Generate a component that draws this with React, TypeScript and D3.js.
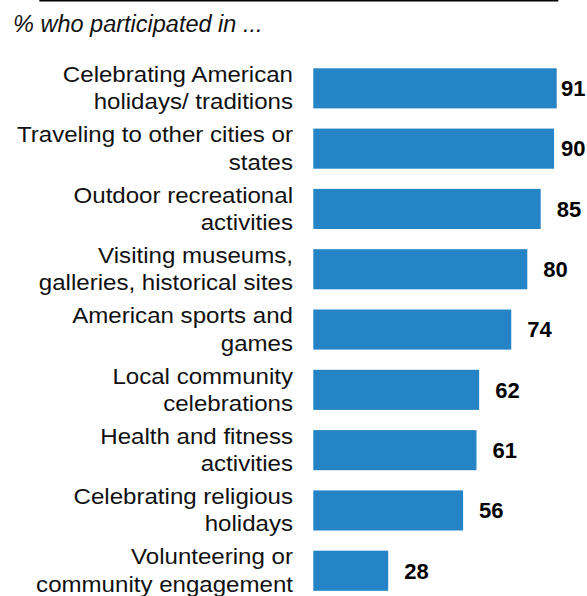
import React from "react";
import * as d3 from "d3";

const categoryLines: string[][] = [
  ["Celebrating American", "holidays/ traditions"],
  ["Traveling to other cities or", "states"],
  ["Outdoor recreational", "activities"],
  ["Visiting museums,", "galleries, historical sites"],
  ["American sports and", "games"],
  ["Local community", "celebrations"],
  ["Health and fitness", "activities"],
  ["Celebrating religious", "holidays"],
  ["Volunteering or", "community engagement"],
];
const categories = categoryLines.map((l) => l.join(" "));
const values = [91, 90, 85, 80, 74, 62, 61, 56, 28];
const subtitle = "% who participated in ...";

const W = 587;
const H = 596;
const STEP = 60.3;
const FONT = "'Liberation Sans', Arial, Helvetica, sans-serif";

export default function App() {
  const x = d3.scaleLinear().domain([0, 100]).range([313.3, 313.3 + 267.5]);
  const y = d3
    .scaleBand<string>()
    .domain(categories)
    .range([58.2, 58.2 + categories.length * STEP])
    .paddingInner(0.335)
    .paddingOuter(0.1675);

  return (
    <svg
      width={W}
      height={H}
      style={{ position: "absolute", left: 0, top: 0, background: "#fff" }}
      fontFamily={FONT}
    >
      <line x1={39.3} x2={558.3} y1={0.7} y2={0.7} stroke="#000" strokeWidth={1.5} />
      <text x={13} y={32} fontSize={23.5} fontStyle="italic" fill="#111">
        {subtitle}
      </text>
      {categories.map((c, i) => {
        const top = y(c) as number;
        const bw = y.bandwidth();
        const cy = top + bw / 2;
        const v = values[i];
        return (
          <g key={c}>
            <rect x={x(0)} y={top} width={x(v) - x(0)} height={bw} fill="#2484C6" />
            <g transform={`translate(293,${cy}) scale(1.07,1)`}>
              <text x={0} y={-6.3} textAnchor="end" fontSize={22.5} fill="#111">
                {categoryLines[i][0]}
              </text>
              <text x={0} y={21} textAnchor="end" fontSize={22.5} fill="#111">
                {categoryLines[i][1]}
              </text>
            </g>
            <text
              x={Math.min(x(v) + 16, 561)}
              y={cy + 7.8}
              fontSize={22}
              fontWeight="bold"
              fill="#000"
            >
              {v}
            </text>
          </g>
        );
      })}
    </svg>
  );
}
